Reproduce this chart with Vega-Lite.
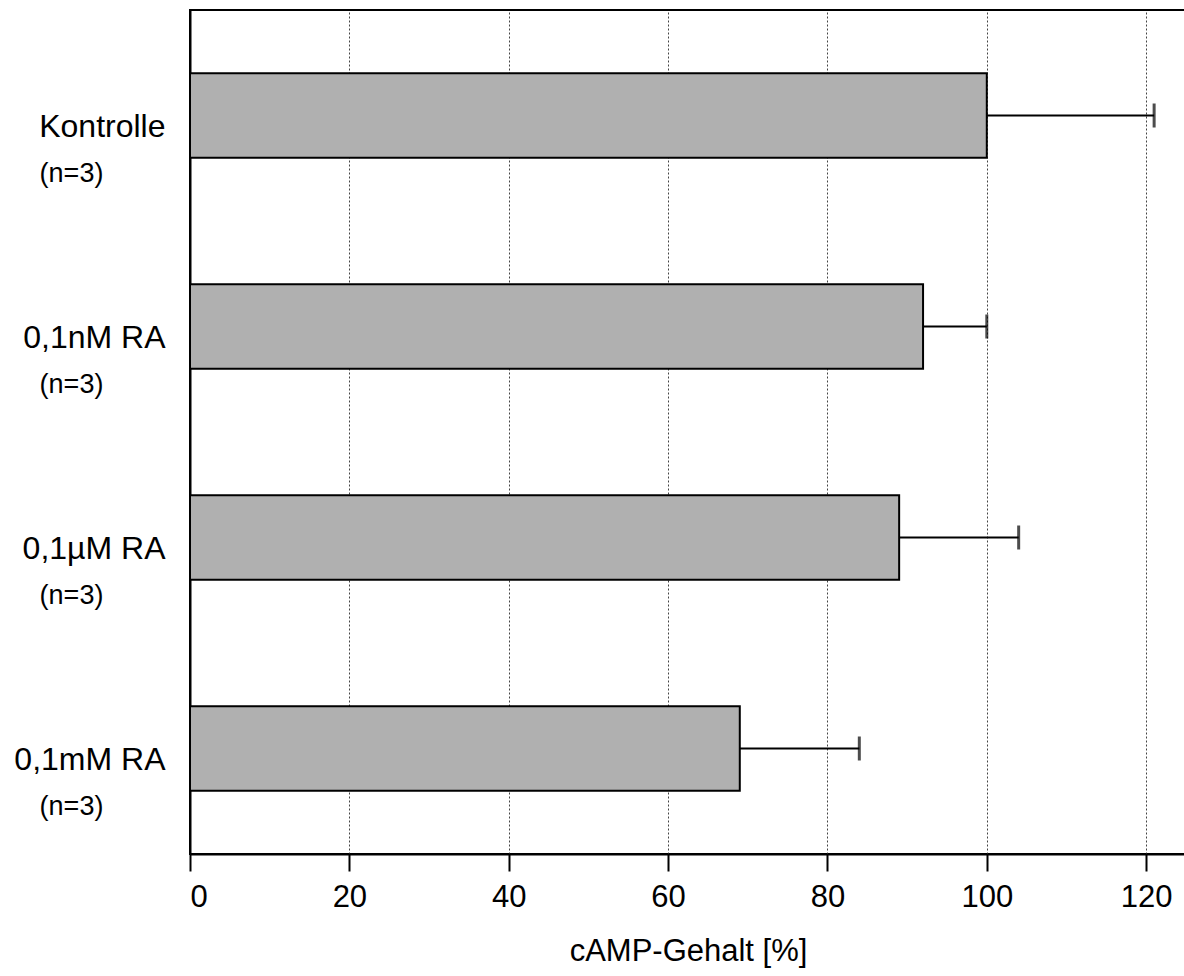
{
  "$schema": "https://vega.github.io/schema/vega-lite/v6.json",
  "autosize": "none",
  "padding": {"left": 190, "top": 10, "right": 0, "bottom": 122},
  "width": 996,
  "height": 844,
  "background": "white",
  "config": {
    "font": "Liberation Sans",
    "view": {"stroke": "black", "strokeWidth": 2}
  },
  "data": {
    "values": [
      {"gruppe": "Kontrolle", "n": "(n=3)", "wert": 100, "oben": 121},
      {"gruppe": "0,1nM RA", "n": "(n=3)", "wert": 92, "oben": 100},
      {"gruppe": "0,1µM RA", "n": "(n=3)", "wert": 89, "oben": 104},
      {"gruppe": "0,1mM RA", "n": "(n=3)", "wert": 69, "oben": 84}
    ]
  },
  "resolve": {"axis": {"y": "independent"}},
  "layer": [
    {
      "mark": {"type": "bar", "fill": "#b0b0b0", "stroke": "black", "strokeWidth": 2},
      "encoding": {
        "y": {
          "field": "gruppe", "type": "nominal", "sort": null,
          "scale": {"paddingInner": 0.6, "paddingOuter": 0.3},
          "axis": {
            "orient": "left", "title": null, "ticks": false, "tickSize": 0,
            "domain": true, "domainColor": "black", "domainWidth": 2,
            "labelFontSize": 32, "labelColor": "black", "labelPadding": 25,
            "labelAlign": "right", "labelOffset": 11, "labelFont": "Liberation Sans"
          }
        },
        "x": {
          "field": "wert", "type": "quantitative",
          "scale": {"domain": [0, 125], "nice": false, "zero": true},
          "axis": {
            "title": "cAMP-Gehalt [%]", "values": [0, 20, 40, 60, 80, 100, 120],
            "titleFontSize": 31, "titleFontWeight": "normal", "titleColor": "black",
            "titlePadding": 24, "titleFont": "Liberation Sans",
            "labelFontSize": 31, "labelColor": "black", "labelPadding": 11,
            "labelFont": "Liberation Sans",
            "domainColor": "black", "domainWidth": 2,
            "tickColor": "black", "tickWidth": 2, "tickSize": 17,
            "grid": true, "gridColor": "#444444", "gridDash": [2, 2], "gridWidth": 1
          }
        }
      }
    },
    {
      "mark": {"type": "rule", "color": "black", "strokeWidth": 2},
      "encoding": {
        "y": {"field": "gruppe", "type": "nominal", "sort": null, "axis": null},
        "x": {"field": "wert", "type": "quantitative"},
        "x2": {"field": "oben"}
      }
    },
    {
      "mark": {"type": "tick", "color": "black", "thickness": 3, "size": 24, "orient": "vertical"},
      "encoding": {
        "y": {
          "field": "gruppe", "type": "nominal", "sort": null,
          "axis": {
            "orient": "left", "title": null, "ticks": false, "tickSize": 0,
            "domain": false, "grid": false,
            "labelExpr": "'(n=3)'", "labelFontSize": 27, "labelColor": "black",
            "labelAlign": "center", "labelPadding": 119, "labelOffset": 58,
            "labelFont": "Liberation Sans"
          }
        },
        "x": {"field": "oben", "type": "quantitative"}
      }
    }
  ]
}
